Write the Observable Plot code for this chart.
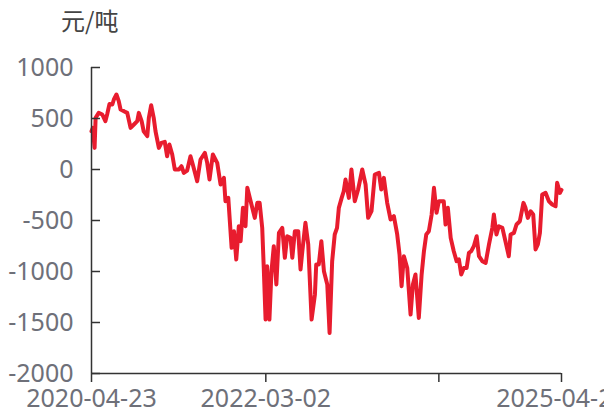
<!DOCTYPE html>
<html><head><meta charset="utf-8">
<script src="https://cdn.jsdelivr.net/npm/d3@7"></script>
<script src="https://cdn.jsdelivr.net/npm/@observablehq/plot@0.6"></script>
<style>
body{margin:0;background:#fff;overflow:hidden;}
#title{height:44px;font-size:24px;font-family:"Noto Sans CJK SC","Noto Sans",sans-serif;color:#444;padding-left:61px;line-height:40px;}
</style></head><body>
<div id="title">元/吨</div>
<div id="chart"></div>
<script>
const dates = [
"2020-04-23","2020-04-28","2020-05-05","2020-05-09","2020-05-21","2020-06-04","2020-06-16","2020-06-23","2020-07-02","2020-07-13",
"2020-07-19","2020-07-29","2020-08-07","2020-08-14","2020-08-27","2020-09-09","2020-09-22","2020-10-05","2020-10-18","2020-10-24",
"2020-11-04","2020-11-12","2020-11-26","2020-12-02","2020-12-11","2020-12-21","2020-12-28","2021-01-10","2021-01-20","2021-02-02",
"2021-02-11","2021-02-20","2021-03-03","2021-03-13","2021-03-29","2021-04-08","2021-04-17","2021-04-30","2021-05-13","2021-05-22",
"2021-06-08","2021-06-21","2021-07-08","2021-07-17","2021-07-26","2021-08-08","2021-08-25","2021-09-07","2021-09-20","2021-09-26",
"2021-10-07","2021-10-20","2021-10-29","2021-11-07","2021-11-17","2021-11-24","2021-12-03","2021-12-13","2021-12-20","2022-01-02",
"2022-01-18","2022-01-28","2022-02-06","2022-02-16","2022-02-22","2022-03-01","2022-03-07","2022-03-16","2022-03-24","2022-04-02",
"2022-04-12","2022-04-22","2022-05-05","2022-05-15","2022-05-24","2022-06-06","2022-06-13","2022-06-23","2022-07-06","2022-07-15",
"2022-07-22","2022-08-03","2022-08-14","2022-08-27","2022-09-09","2022-09-14","2022-09-24","2022-10-04","2022-10-14","2022-10-27",
"2022-11-05","2022-11-15","2022-11-25","2022-12-04","2022-12-11","2022-12-22","2022-12-30","2023-01-06","2023-01-19","2023-01-29",
"2023-02-11","2023-02-24","2023-03-12","2023-03-25","2023-04-04","2023-04-17","2023-04-30","2023-05-16","2023-05-25","2023-06-04",
"2023-06-17","2023-06-30","2023-07-13","2023-07-26","2023-08-04","2023-08-12","2023-08-21","2023-09-03","2023-09-16","2023-09-25",
"2023-10-05","2023-10-18","2023-10-29","2023-11-07","2023-11-16","2023-11-26","2023-12-07","2023-12-16","2023-12-26","2024-01-04",
"2024-01-23","2024-01-30","2024-02-08","2024-02-19","2024-03-02","2024-03-13","2024-03-22","2024-03-31","2024-04-10","2024-04-21",
"2024-04-30","2024-05-09","2024-05-19","2024-05-30","2024-06-08","2024-06-21","2024-07-04","2024-07-17","2024-07-30","2024-08-05",
"2024-08-15","2024-08-24","2024-09-07","2024-09-19","2024-10-02","2024-10-09","2024-10-22","2024-11-01","2024-11-14","2024-11-28",
"2024-12-06","2024-12-15","2024-12-26","2025-01-05","2025-01-14","2025-01-23","2025-01-31","2025-02-09","2025-02-22","2025-03-07",
"2025-03-20","2025-04-02","2025-04-08","2025-04-19","2025-04-25"
];
const values = [
375,408,212,506,555,539,474,542,643,637,
686,735,670,588,572,555,408,441,474,555,
474,375,327,506,630,506,375,212,261,271,
130,245,147,0,0,32,-33,-10,130,49,
-115,98,163,65,-98,147,65,-147,-82,-311,
-278,-768,-605,-882,-556,-703,-376,-556,-180,-311,
-474,-327,-327,-572,-965,-1471,-948,-1471,-997,-752,
-1127,-621,-572,-866,-654,-670,-866,-605,-605,-980,
-801,-523,-735,-1471,-1225,-931,-931,-703,-997,-1127,
-1602,-900,-637,-572,-376,-278,-213,-98,-278,0,
-311,-196,0,-147,-474,-409,-49,-33,-196,-82,
-327,-490,-458,-637,-833,-1144,-850,-965,-1422,-1127,
-1029,-1455,-1029,-801,-637,-605,-441,-180,-425,-311,
-311,-539,-376,-670,-801,-899,-882,-1029,-965,-965,
-817,-801,-752,-654,-850,-899,-915,-735,-572,-441,
-637,-556,-572,-703,-850,-637,-621,-539,-507,-327,
-376,-474,-409,-441,-784,-735,-621,-245,-229,-311,
-343,-360,-131,-229,-200
];
const yTicks = [-2000,-1500,-1000,-500,0,500,1000];
const xTickDates = ["2020-04-23","2022-03-02","2024-01-04","2025-04-25"];
const xTickLabels = ["2020-04-23","2022-03-02","","2025-04-25"];

const parse = d3.utcParse("%Y-%m-%d");
const data = dates.map((d,i)=>({date: parse(d), value: values[i]}));
const xt = xTickDates.map(parse);
const labelMap = new Map(xt.map((d,i)=>[+d, xTickLabels[i]]));

const W = 604, ML = 91, MR = 43;
const chart = Plot.plot({
  width: W, height: 370,
  marginLeft: ML, marginRight: MR, marginTop: 23, marginBottom: 41,
  style: {fontFamily: '"Noto Sans", sans-serif', fontSize: "25px", background: "#fff", overflow: "visible"},
  x: {type: "utc", domain: [xt[0], xt[3]], label: null},
  y: {domain: [-2000, 1000], label: null},
  marks: [
    Plot.line(data, {x: "date", y: "value", stroke: "#e81c2e", strokeWidth: 4, strokeLinejoin: "round"}),
    Plot.ruleX([xt[0]], {stroke: "#333", strokeWidth: 1.5}),
    Plot.ruleY([-2000], {stroke: "#333", strokeWidth: 1.5}),
    Plot.tickY(yTicks, {y: d => d, stroke: "#333", strokeWidth: 1.5, insetRight: W - ML - MR - 9}),
    Plot.axisY(yTicks, {tickSize: 0, tickPadding: 18, fill: "#6e7079", tickFormat: d => String(d), label: null}),
    Plot.axisX(xt, {tickSize: 9, tickFormat: () => "", stroke: "#333", strokeWidth: 1.5, label: null}),
    Plot.axisX(xt, {tickSize: 0, tickPadding: 16, fill: "#6e7079", tickFormat: d => labelMap.get(+d), label: null})
  ]
});
document.getElementById("chart").appendChild(chart);
</script>
</body></html>
